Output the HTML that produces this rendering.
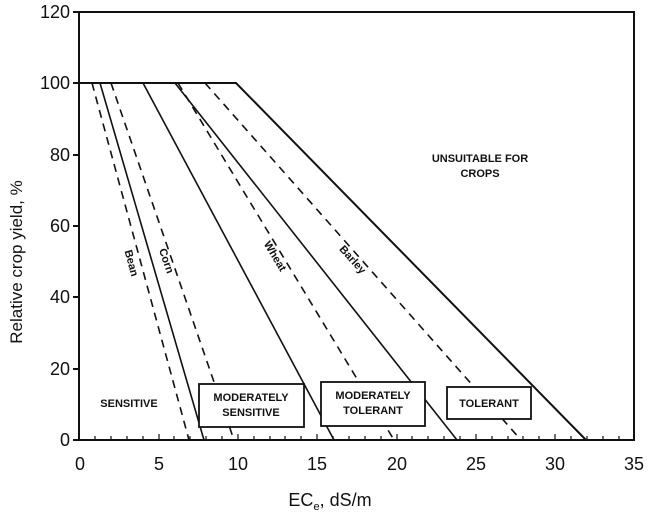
<!DOCTYPE html>
<html><head><style>body{margin:0;background:#fff}svg{display:block}text{font-family:"Liberation Sans",Arial,sans-serif;fill:#111}</style></head>
<body>
<svg width="650" height="518" viewBox="0 0 650 518" xmlns="http://www.w3.org/2000/svg">
<g stroke="#111" fill="none">
<rect x="79" y="12" width="555" height="428" stroke-width="2"/>
<g stroke-width="2">
<line x1="73" y1="12" x2="79" y2="12"/><line x1="73" y1="83" x2="79" y2="83"/><line x1="73" y1="155" x2="79" y2="155"/><line x1="73" y1="226" x2="79" y2="226"/><line x1="73" y1="297" x2="79" y2="297"/><line x1="73" y1="369" x2="79" y2="369"/><line x1="73" y1="440" x2="79" y2="440"/>
</g>
<g stroke-width="1.2">
<path d="M95 440v-4M111 440v-4M127 440v-4M143 440v-4M159 440v-6M174 440v-4M190 440v-4M206 440v-4M222 440v-4M238 440v-6M254 440v-4M270 440v-4M285 440v-4M301 440v-4M317 440v-6M333 440v-4M349 440v-4M365 440v-4M381 440v-4M397 440v-6M412 440v-4M428 440v-4M444 440v-4M460 440v-4M476 440v-6M492 440v-4M508 440v-4M523 440v-4M539 440v-4M555 440v-6M571 440v-4M587 440v-4M603 440v-4M619 440v-4"/>
</g>
<path d="M79 83H236L586 440" stroke-width="2"/>
<path d="M100 83L204 440M143 83L334 440M175 83L457 440" stroke-width="1.6"/>
<g stroke-width="1.6" stroke-dasharray="8,6">
<path d="M92 83L189 440M111 83L234 440M178 83L394 440M205 83L521 440"/>
</g>
<g stroke-width="1.8" fill="#fff">
<rect x="199" y="384" width="105" height="43"/>
<rect x="321" y="382" width="104" height="44"/>
<rect x="447" y="387" width="84" height="32"/>
</g>
</g>
<g font-size="18" text-anchor="end">
<text x="70" y="18">120</text><text x="70" y="89">100</text><text x="70" y="161">80</text><text x="70" y="232">60</text><text x="70" y="303">40</text><text x="70" y="375">20</text><text x="70" y="446">0</text>
</g>
<g font-size="18" text-anchor="middle">
<text x="80" y="470">0</text><text x="159" y="470">5</text><text x="238" y="470">10</text><text x="317" y="470">15</text><text x="397" y="470">20</text><text x="476" y="470">25</text><text x="555" y="470">30</text><text x="634" y="470">35</text>
<text x="330" y="506">EC<tspan font-size="11" dy="4">e</tspan><tspan dy="-4">, dS/m</tspan></text>
<text transform="translate(22,262) rotate(-90)" font-size="17">Relative crop yield, %</text>
</g>
<g font-size="11" text-anchor="middle" font-weight="bold">
<text x="129" y="407">SENSITIVE</text>
<text x="251" y="401">MODERATELY</text><text x="251" y="416">SENSITIVE</text>
<text x="373" y="399">MODERATELY</text><text x="373" y="414">TOLERANT</text>
<text x="489" y="407">TOLERANT</text>
<text x="480" y="162">UNSUITABLE FOR</text><text x="480" y="177">CROPS</text>
<text transform="translate(128,264) rotate(75)">Bean</text>
<text transform="translate(163,262) rotate(71)">Corn</text>
<text transform="translate(272,258) rotate(59)">Wheat</text>
<text transform="translate(350,262) rotate(48)">Barley</text>
</g>
</svg>
</body></html>
